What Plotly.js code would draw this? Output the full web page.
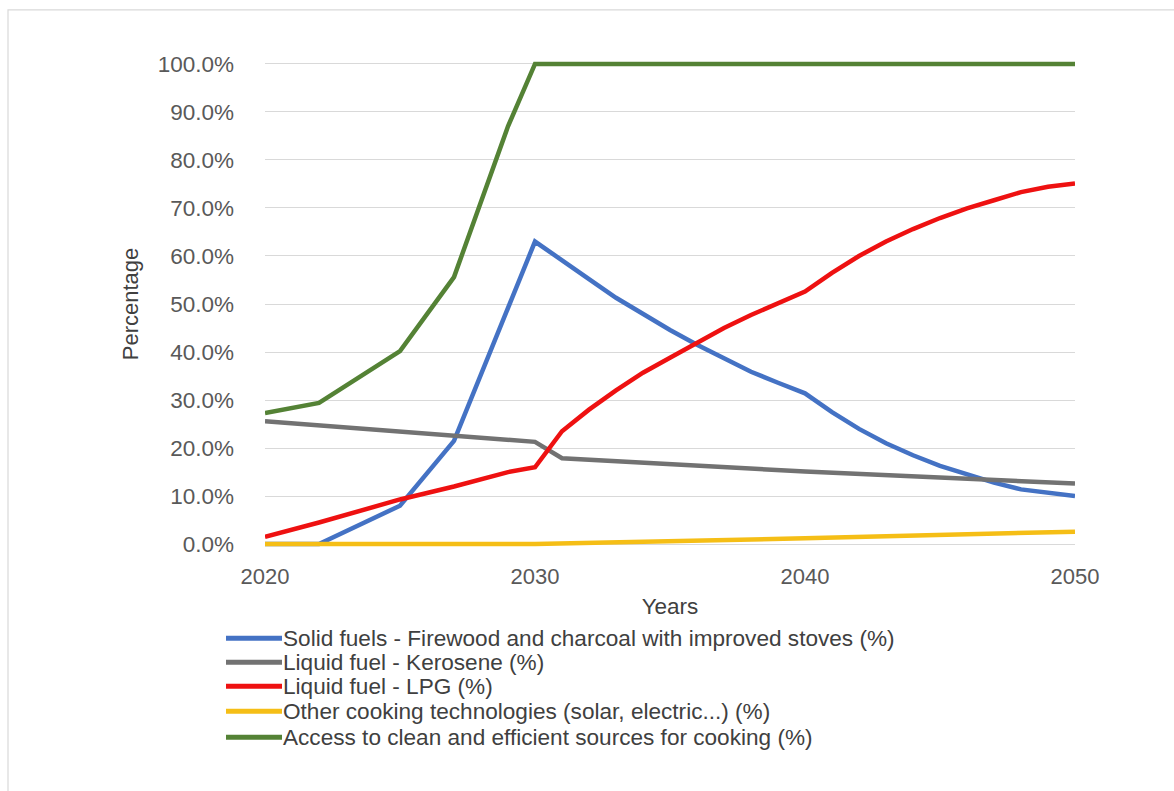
<!DOCTYPE html>
<html>
<head>
<meta charset="utf-8">
<script src="https://cdn.plot.ly/plotly-3.0.1.min.js"></script>
<style>
  html, body { margin: 0; padding: 0; background: #ffffff; }
  #chart { width: 1174px; height: 791px; }
</style>
</head>
<body>
<div id="chart"></div>
<script>
// Cooking energy mix scenario, 2020-2050 (% of households)
const solidYears = [2020, 2021, 2022, 2025, 2027, 2030, 2031, 2032, 2033, 2034, 2035, 2036, 2037, 2038, 2039, 2040, 2041, 2042, 2043, 2044, 2045, 2046, 2047, 2048, 2049, 2050];
const solidFuels = [0, 0, 0, 8.0, 21.5, 63.0, 59.0, 55.2, 51.3, 47.9, 44.6, 41.5, 38.6, 35.9, 33.6, 31.4, 27.5, 24.0, 21.0, 18.5, 16.3, 14.5, 12.8, 11.4, 10.7, 10.0];

const keroseneYears = [2020, 2030, 2031, 2040, 2050];
const kerosene = [25.6, 21.3, 17.9, 15.1, 12.6];

const lpgYears = [2020, 2022, 2025, 2027, 2029, 2030, 2031, 2032, 2033, 2034, 2035, 2036, 2037, 2038, 2039, 2040, 2041, 2042, 2043, 2044, 2045, 2046, 2047, 2048, 2049, 2050];
const lpg = [1.5, 4.5, 9.3, 12.0, 15.0, 16.0, 23.5, 28.0, 32.0, 35.7, 38.8, 42.0, 45.0, 47.7, 50.2, 52.6, 56.5, 60.0, 63.0, 65.6, 67.9, 69.9, 71.6, 73.3, 74.4, 75.1];

const otherYears = [2020, 2030, 2040, 2050];
const otherTech = [0, 0, 1.2, 2.6];

const accessYears = [2020, 2022, 2025, 2027, 2029, 2030, 2040, 2050];
const cleanAccess = [27.3, 29.4, 40.2, 55.6, 87.0, 100, 100, 100];

const seriesNames = [
  'Solid fuels - Firewood and charcoal with improved stoves (%)',
  'Liquid fuel - Kerosene (%)',
  'Liquid fuel - LPG (%)',
  'Other cooking technologies (solar, electric...) (%)',
  'Access to clean and efficient sources for cooking (%)'
];
const seriesColors = ['#4472C4', '#727272', '#EE1111', '#F5BE16', '#548235'];

const xTicks = [2020, 2030, 2040, 2050];

const xs = [solidYears, keroseneYears, lpgYears, otherYears, accessYears];
const ys = [solidFuels, kerosene, lpg, otherTech, cleanAccess];

const traces = seriesNames.map((name, i) => ({
  type: 'scatter',
  mode: 'lines',
  name: name,
  x: xs[i],
  y: ys[i],
  line: { color: seriesColors[i], width: 4.5 },
  showlegend: false,
  hoverinfo: 'skip'
}));

// Page and plot-area geometry. The y range is padded slightly so the
// lines sitting on 0% and 100% are not cut in half by the clip path.
const W = 1174, H = 791;
const Y_LO = -0.6, Y_HI = 100.6;
const pxPerPct = 4.8;                // 0% at y=544, 100% at y=64
const zeroPx = 544, plotLeft = 265, plotRight = 1075;
const plotTop = zeroPx - Y_HI * pxPerPct;
const plotBottom = zeroPx - Y_LO * pxPerPct;
const M = { l: plotLeft, r: W - plotRight, t: plotTop, b: H - plotBottom };
const plotW = plotRight - plotLeft, plotH = plotBottom - plotTop;
const px2x = p => (p - plotLeft) / plotW;
const py2y = p => (plotBottom - p) / plotH;

const legendRows = [638, 662, 686, 711, 737];
const shapes = [];
const annotations = [];

seriesNames.forEach((name, i) => {
  shapes.push({
    type: 'line', xref: 'paper', yref: 'paper',
    x0: px2x(226), x1: px2x(282),
    y0: py2y(legendRows[i]), y1: py2y(legendRows[i]),
    line: { color: seriesColors[i], width: 5 }
  });
  annotations.push({
    xref: 'paper', yref: 'paper',
    x: px2x(281), y: py2y(legendRows[i]),
    xanchor: 'left', yanchor: 'middle',
    text: name, showarrow: false,
    font: { size: 22.6, color: '#404040' }
  });
});

// Outer chart frame
shapes.push({
  type: 'rect', xref: 'paper', yref: 'paper', layer: 'below',
  x0: px2x(8), x1: px2x(1190), y0: py2y(800), y1: py2y(10),
  line: { color: '#d9d9d9', width: 1.2 }, fillcolor: 'rgba(0,0,0,0)'
});

const layout = {
  width: W, height: H,
  margin: M,
  paper_bgcolor: '#ffffff',
  plot_bgcolor: '#ffffff',
  font: { family: 'Liberation Sans, Arial, sans-serif', color: '#595959', size: 22 },
  showlegend: false,
  xaxis: {
    range: [2020, 2050],
    tickvals: xTicks,
    ticktext: xTicks.map(String),
    showgrid: false,
    zeroline: false,
    showline: false,
    ticks: '',
    ticklabelstandoff: 14,
    tickfont: { size: 22, color: '#595959' },
    title: { text: 'Years', font: { size: 22.5, color: '#404040' }, standoff: 10 }
  },
  yaxis: {
    range: [Y_LO, Y_HI],
    tick0: 0,
    dtick: 10,
    tickformat: '.1f',
    ticksuffix: '%',
    showgrid: true,
    gridcolor: '#d9d9d9',
    gridwidth: 1,
    zeroline: true,
    zerolinecolor: '#d9d9d9',
    zerolinewidth: 1,
    showline: false,
    ticks: '',
    ticklabelstandoff: 30,
    tickfont: { size: 22.5, color: '#595959' },
    title: { text: 'Percentage', font: { size: 22, color: '#404040' }, standoff: 12 }
  },
  shapes: shapes,
  annotations: annotations
};

Plotly.newPlot('chart', traces, layout, { displayModeBar: false, staticPlot: true });
</script>
</body>
</html>
